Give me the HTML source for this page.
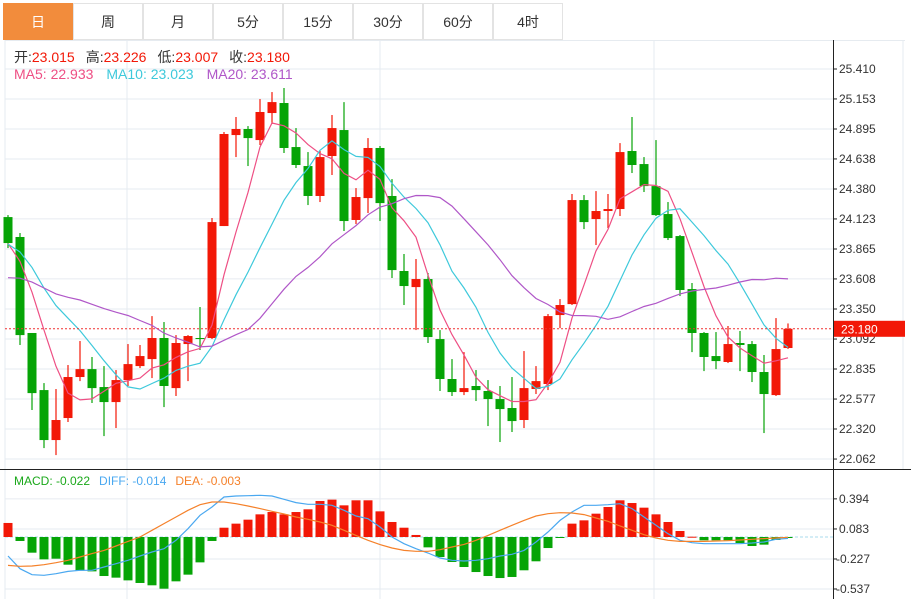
<!DOCTYPE html>
<html><head><meta charset="utf-8"><style>
body{margin:0;background:#fff;font-family:"Liberation Sans","Noto Sans CJK SC",sans-serif;}
#wrap{position:relative;width:911px;height:599px;overflow:hidden;}
.tab{position:absolute;top:3px;height:37px;width:70px;border:1px solid #e3e3e3;box-sizing:border-box;text-align:center;line-height:36px;font-size:14px;color:#333;background:#fff;}
.tab.on{background:#f28c3c;color:#fff;border-color:#f28c3c;}
</style></head><body>
<div id="wrap">
<div class="tab on" style="left:3px">日</div>
<div class="tab" style="left:73px">周</div>
<div class="tab" style="left:143px">月</div>
<div class="tab" style="left:213px">5分</div>
<div class="tab" style="left:283px">15分</div>
<div class="tab" style="left:353px">30分</div>
<div class="tab" style="left:423px">60分</div>
<div class="tab" style="left:493px">4时</div>
<svg id="svg" width="911" height="599" style="position:absolute;left:0;top:0"></svg>
</div>
<script>
const openP=[24.139,23.968,23.144,22.654,22.225,22.414,22.766,22.834,22.680,22.551,22.740,22.860,22.920,23.101,22.671,23.049,23.101,23.101,24.062,24.843,24.895,24.800,25.032,25.118,24.740,24.577,24.320,24.663,24.886,24.114,24.302,24.732,24.320,23.676,23.538,23.607,23.092,22.749,22.637,22.689,22.646,22.577,22.500,22.397,22.663,22.706,23.298,23.392,24.285,24.122,24.191,24.208,24.706,24.594,24.405,24.165,23.976,23.521,23.144,22.946,22.895,23.058,23.049,22.809,22.611,23.015];
const highP=[24.156,24.002,23.144,22.714,22.663,22.869,23.075,22.938,22.860,22.826,23.049,23.041,23.289,23.238,23.126,23.126,23.367,24.131,24.869,24.998,24.920,25.152,25.212,25.247,24.903,24.697,24.706,25.015,25.126,24.388,24.817,24.749,24.465,23.822,23.779,23.659,23.169,22.920,22.980,22.826,22.740,22.689,22.766,22.989,22.860,23.307,23.435,24.337,24.328,24.362,24.337,24.774,24.998,24.654,24.800,24.268,23.985,23.573,23.152,23.152,23.204,23.161,23.075,22.955,23.272,23.226];
const lowP=[23.873,23.041,22.483,22.156,22.096,22.380,22.731,22.543,22.259,22.328,22.689,22.843,22.757,22.508,22.603,22.731,22.998,23.092,24.062,24.654,24.577,24.757,24.938,24.689,24.560,24.242,24.268,24.500,24.019,24.079,24.174,24.105,23.616,23.384,23.169,23.058,22.646,22.603,22.611,22.560,22.345,22.208,22.294,22.328,22.620,22.654,23.186,23.384,24.036,23.899,24.045,24.148,24.517,24.354,24.148,23.942,23.461,22.980,22.817,22.834,22.886,22.817,22.723,22.285,22.603,23.007];
const closeP=[23.916,23.126,22.628,22.225,22.397,22.766,22.834,22.671,22.551,22.740,22.877,22.946,23.101,22.689,23.058,23.118,23.092,24.096,24.852,24.895,24.817,25.041,25.126,24.732,24.586,24.320,24.654,24.903,24.105,24.311,24.732,24.259,23.684,23.547,23.607,23.109,22.749,22.637,22.671,22.654,22.577,22.491,22.388,22.671,22.731,23.289,23.384,24.285,24.096,24.191,24.208,24.697,24.586,24.405,24.156,23.959,23.513,23.144,22.938,22.903,23.049,23.041,22.809,22.620,23.006,23.180];
const prevCloses=[23.2,23.3,23.25,23.4,23.35,23.3,23.4,23.3,23.35,23.45,23.8,23.95,24.0,23.9,23.85,23.9,23.95,23.85,23.95];
const priceTicks=["25.410","25.153","24.895","24.638","24.380","24.123","23.865","23.608","23.350","23.092","22.835","22.577","22.320","22.062"];
const macdHist=[0.145,-0.041,-0.162,-0.231,-0.224,-0.286,-0.348,-0.355,-0.403,-0.420,-0.448,-0.475,-0.499,-0.534,-0.458,-0.389,-0.262,-0.041,0.096,0.138,0.179,0.234,0.258,0.234,0.258,0.286,0.372,0.386,0.327,0.379,0.379,0.265,0.155,0.096,0.021,-0.107,-0.207,-0.258,-0.310,-0.362,-0.403,-0.424,-0.413,-0.344,-0.251,-0.114,-0.007,0.138,0.172,0.241,0.310,0.379,0.351,0.303,0.234,0.155,0.062,0.003,-0.034,-0.034,-0.034,-0.062,-0.093,-0.079,-0.031,-0.007];
const diffLine=[-0.196,-0.327,-0.389,-0.396,-0.379,-0.355,-0.344,-0.344,-0.310,-0.276,-0.241,-0.196,-0.155,-0.121,-0.034,0.086,0.224,0.310,0.413,0.424,0.427,0.431,0.424,0.389,0.355,0.338,0.338,0.327,0.276,0.217,0.189,0.103,0,-0.069,-0.121,-0.165,-0.217,-0.241,-0.248,-0.241,-0.224,-0.196,-0.179,-0.138,-0.052,0.052,0.172,0.258,0.327,0.327,0.334,0.344,0.293,0.207,0.121,0.034,-0.034,-0.059,-0.069,-0.069,-0.069,-0.069,-0.062,-0.052,-0.024,-0.014];
const deaLine=[-0.293,-0.303,-0.300,-0.286,-0.265,-0.241,-0.207,-0.172,-0.138,-0.093,-0.045,0,0.069,0.138,0.207,0.276,0.334,0.362,0.362,0.344,0.320,0.293,0.265,0.238,0.207,0.183,0.155,0.121,0.069,0.017,-0.034,-0.079,-0.114,-0.138,-0.148,-0.148,-0.131,-0.103,-0.076,-0.034,0.017,0.069,0.121,0.172,0.217,0.241,0.251,0.248,0.231,0.196,0.162,0.114,0.069,0.024,-0.010,-0.034,-0.045,-0.045,-0.045,-0.041,-0.038,-0.031,-0.024,-0.017,-0.010,-0.003];
const macdTicks=["0.394","0.083","-0.227","-0.537"];

const NS="http://www.w3.org/2000/svg",svg=document.getElementById('svg');
function mk(t,a,p){const e=document.createElementNS(NS,t);for(const k in a)e.setAttribute(k,a[k]);(p||svg).appendChild(e);return e;}
const xOf=i=>8+i*12;
const yP=v=>69+(25.410-v)*116.5;
const yM=v=>537-v*96.8;
const RED="#f21807",GREEN="#06a406";
const grid=mk('g',{});


priceTicks.forEach(t=>{const y=yP(+t);mk('line',{x1:5,x2:833,y1:y,y2:y,stroke:'#e6ebf0','stroke-width':1},grid);});
macdTicks.forEach(t=>{const y=yM(+t);mk('line',{x1:5,x2:833,y1:y,y2:y,stroke:'#e6ebf0','stroke-width':1},grid);});
[127,380,654].forEach(x=>mk('line',{x1:x,x2:x,y1:40,y2:599,stroke:'#e6ebf0'},grid));
mk('line',{x1:5,x2:5,y1:40,y2:599,stroke:'#e6ebf0'},grid);
mk('line',{x1:903,x2:903,y1:40,y2:469,stroke:'#e6ebf0'},grid);
mk('line',{x1:5,x2:905,y1:40.5,y2:40.5,stroke:'#e6ebf0'},grid);
mk('line',{x1:0,x2:911,y1:469.5,y2:469.5,stroke:'#222','stroke-width':1},grid);
mk('line',{x1:833.5,x2:833.5,y1:40,y2:599,stroke:'#222'},grid);
const ax=mk('g',{'font-size':12,fill:'#333'});


priceTicks.forEach(t=>{const y=yP(+t);mk('line',{x1:833,x2:837,y1:y,y2:y,stroke:'#222'},ax);const e=mk('text',{x:839,y:y+4},ax);e.textContent=t;});
macdTicks.forEach(t=>{const y=yM(+t);mk('line',{x1:833,x2:837,y1:y,y2:y,stroke:'#222'},ax);const e=mk('text',{x:t[0]=='-'?836:839,y:y+4},ax);e.textContent=t;});
const cg=mk('g',{});


for(let i=0;i<closeP.length;i++){
 const up=closeP[i]>=openP[i],c=up?RED:GREEN,x=xOf(i);
 const g=mk('g',{},cg);
 
 
 mk('line',{x1:x,x2:x,y1:yP(highP[i]),y2:yP(lowP[i]),stroke:c,'stroke-width':1.2},g);
 const t=yP(Math.max(openP[i],closeP[i])),b=yP(Math.min(openP[i],closeP[i]));
 mk('rect',{x:x-4.5,y:t,width:9,height:Math.max(1,b-t),fill:c},g);
}
const all=prevCloses.concat(closeP);
function ma(n){return closeP.map((_,i)=>{let s=0;for(let k=0;k<n;k++)s+=all[i+prevCloses.length-k];return s/n;});}
[[5,'#ee4f84','ma5-line'],[10,'#3ec9db','ma10-line'],[20,'#b057c8','ma20-line']].forEach(([n,col,nm])=>{
 const m=ma(n);const p=mk('polyline',{points:m.map((v,i)=>xOf(i)+','+yP(v).toFixed(1)).join(' '),fill:'none',stroke:col,'stroke-width':1.2});
 
 
});
const cl=yP(closeP[closeP.length-1]);
const pl=mk('line',{x1:5,x2:833,y1:cl,y2:cl,stroke:'#f03030','stroke-dasharray':'2,2'});


const tg=mk('g',{});


mk('rect',{x:834,y:cl-8,width:71,height:16,fill:'#f21807'},tg);
const tt=mk('text',{x:841,y:cl+4.5,fill:'#fff','font-size':12},tg);tt.textContent=closeP[closeP.length-1].toFixed(3);
mk('line',{x1:5,x2:833,y1:yM(0),y2:yM(0),stroke:'#a8dbee','stroke-dasharray':'3,2'});
const mg=mk('g',{});


macdHist.forEach((v,i)=>{const y0=yM(0),y1=yM(v);const r=mk('rect',{x:xOf(i)-4.5,y:Math.min(y0,y1),width:9,height:Math.max(1,Math.abs(y1-y0)),fill:v>=0?RED:GREEN},mg);
 
 });
[[diffLine,'#4aa8f0','diff-line'],[deaLine,'#f5812a','dea-line']].forEach(([d,col,nm])=>{
 const p=mk('polyline',{points:d.map((v,i)=>xOf(i)+','+yM(v).toFixed(1)).join(' '),fill:'none',stroke:col,'stroke-width':1.2});
 
 
});
function leg(x,y,fs,parts,nm){const t=mk('text',{x:x,y:y,'font-size':fs});
 parts.forEach(([s,c,dx])=>{const e=mk('tspan',{fill:c},t);if(dx)e.setAttribute('dx',dx);e.textContent=s;});}
const o=openP.length-1;
leg(14,62,14,[['开:','#333'],[openP[o].toFixed(3),RED],['高:','#333',11],[highP[o].toFixed(3),RED],['低:','#333',11],[lowP[o].toFixed(3),RED],['收:','#333',11],[closeP[o].toFixed(3),RED]],'ohlc-legend');
leg(14,79,14,[['MA5: 22.933','#ee4f84'],['MA10: 23.023','#3ec9db',13],['MA20: 23.611','#b057c8',13]],'ma-legend');
leg(14,485,12,[['MACD: -0.022','#1aa81a'],['DIFF: -0.014','#4aa8f0',9],['DEA: -0.003','#f5812a',9]],'macd-legend');
</script>
</body></html>
